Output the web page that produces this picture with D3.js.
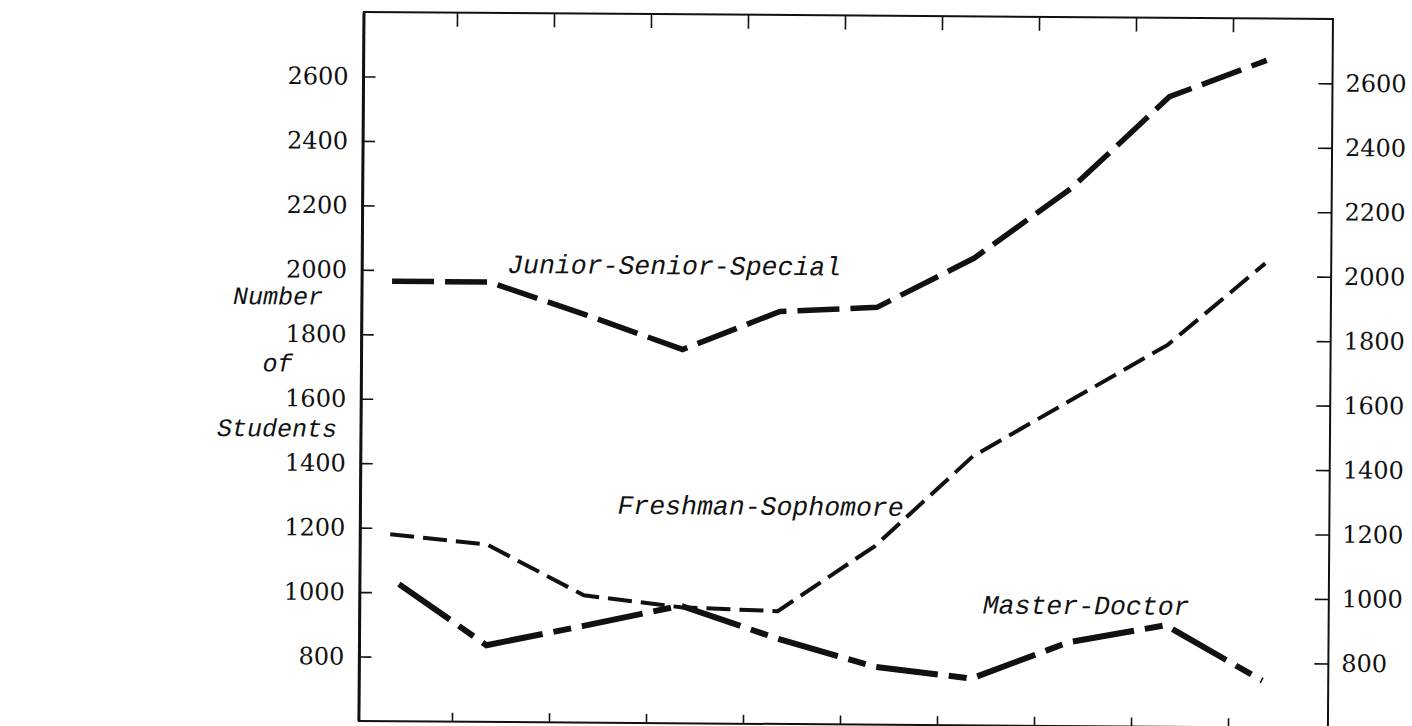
<!DOCTYPE html>
<html><head><meta charset="utf-8">
<script src="https://cdn.jsdelivr.net/npm/d3@7"></script>
<style>html,body{margin:0;padding:0;background:#fff;overflow:hidden} svg{display:block}</style>
</head><body>
<svg id="chart" width="1412" height="726"></svg>
<script>
// ---- data ----
const periods = [0, 1, 2, 3, 4, 5, 6, 7, 8, 9];
const juniorSeniorSpecial = [1965, 1965, 1865, 1760, 1880, 1895, 2050, 2270, 2555, 2670];
const freshmanSophomore   = [1180, 1150, 995, 960, 950, 1155, 1435, 1610, 1785, 2040];
const masterDoctor        = [1045, 838, 900, 965, 865, 780, 745, 860, 915, 745];
const yTickValues = [800, 1000, 1200, 1400, 1600, 1800, 2000, 2200, 2400, 2600];
const yAxisTitle = ["Number", "of", "Students"];
const seriesNames = ["Junior-Senior-Special", "Freshman-Sophomore", "Master-Doctor"];

// ---- layout ----
const W = 969, H = 709;
const svg = d3.select("#chart");
const g = svg.append("g").attr("transform", "translate(364,12) rotate(0.41)");

const x = d3.scaleLinear().domain([-0.309, 9.68]).range([0, W]);
const y = d3.scaleLinear().domain([600, 2800]).range([H, 0]);
const xTickValues = d3.range(periods.length - 1).map(k => k + 0.65);

const ink = "#111";

// frame
g.append("rect").attr("x", 0).attr("y", 0).attr("width", W).attr("height", H)
  .attr("fill", "none").attr("stroke", ink).attr("stroke-width", 2);
g.append("line").attr("x1", 0).attr("x2", 0).attr("y1", 0).attr("y2", H)
  .attr("stroke", ink).attr("stroke-width", 3);

// axes (ticks inward)
const tickFont = "'DejaVu Serif', serif";
const axLeft = g.append("g").call(d3.axisLeft(y).tickValues(yTickValues).tickSize(-12).tickPadding(15).tickFormat(d3.format("d")));
const axRight = g.append("g").attr("transform", `translate(${W},0)`)
  .call(d3.axisRight(y).tickValues(yTickValues).tickSize(-14).tickPadding(13).tickFormat(d3.format("d")));
const axTop = g.append("g").call(d3.axisTop(x).tickValues(xTickValues).tickSize(-14).tickFormat(""));
const axBottom = g.append("g").attr("transform", `translate(0,${H})`)
  .call(d3.axisBottom(x).tickValues(xTickValues).tickSize(-9).tickFormat(""));
[axLeft, axRight, axTop, axBottom].forEach(a => {
  a.select(".domain").remove();
  a.selectAll(".tick line").attr("stroke", ink).attr("stroke-width", 1.6);
  a.selectAll(".tick text").attr("fill", ink).attr("font-family", tickFont).attr("font-size", 24);
});

// lines
const line = d3.line().x((d, i) => x(periods[i])).y(d => y(d));
g.append("path").datum(juniorSeniorSpecial).attr("d", line)
  .attr("fill", "none").attr("stroke", ink).attr("stroke-width", 5.5)
  .attr("stroke-dasharray", "42 11");
g.append("path").datum(freshmanSophomore).attr("d", line)
  .attr("fill", "none").attr("stroke", ink).attr("stroke-width", 4)
  .attr("stroke-dasharray", "24 9");
g.append("path").datum(masterDoctor).attr("d", line)
  .attr("fill", "none").attr("stroke", ink).attr("stroke-width", 6)
  .attr("stroke-dasharray", "62 11 18 11").attr("stroke-dashoffset", 91);

// labels
const labelFont = "'Liberation Mono', 'Courier New', monospace";
const labelPos = [[145, 260], [257, 500], [623, 597]];
seriesNames.forEach((s, i) => {
  g.append("text").attr("x", labelPos[i][0]).attr("y", labelPos[i][1])
    .attr("font-family", labelFont).attr("font-style", "italic").attr("font-size", 26.5)
    .attr("fill", ink).text(s);
});
const titleY = [293, 360, 425];
yAxisTitle.forEach((t, i) => {
  g.append("text").attr("x", -84).attr("y", titleY[i]).attr("text-anchor", "middle")
    .attr("font-family", labelFont).attr("font-style", "italic").attr("font-size", 25)
    .attr("fill", ink).text(t);
});
</script>
</body></html>
